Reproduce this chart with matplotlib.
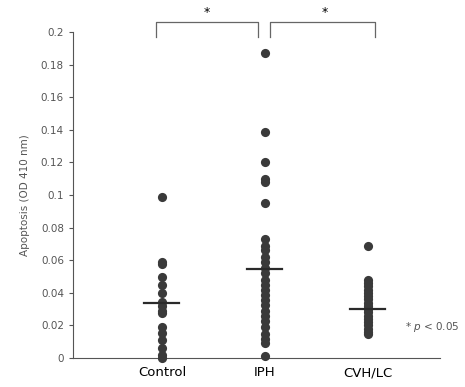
import matplotlib.pyplot as plt
import numpy as np

groups = ['Control', 'IPH', 'CVH/LC']
control = [0.099, 0.059, 0.0575, 0.050, 0.045, 0.040, 0.0345, 0.032, 0.029, 0.0275,
           0.019, 0.0155, 0.011, 0.006, 0.002, 0.0]
iph = [0.187, 0.139, 0.120, 0.110, 0.108, 0.095, 0.073, 0.069, 0.066, 0.062, 0.059,
       0.0555, 0.052, 0.048, 0.045, 0.042, 0.0387, 0.0356, 0.0325, 0.029, 0.026,
       0.023, 0.019, 0.015, 0.0117, 0.009, 0.001]
cvh = [0.0687, 0.048, 0.046, 0.044, 0.042, 0.040, 0.038, 0.036, 0.034, 0.032, 0.030,
       0.028, 0.026, 0.024, 0.022, 0.020, 0.018, 0.016, 0.015]
means = [0.034, 0.0545, 0.030]

fig = plt.figure(figsize=(4.65, 3.87), dpi=100)
ax = fig.add_axes([0.157, 0.075, 0.789, 0.842])

dot_col = '#3a3a3a'
for i, vals in enumerate([control, iph, cvh]):
    x = i + 1
    ax.plot([x] * len(vals), vals, 'o', color=dot_col, markersize=6.6,
            markeredgewidth=0, clip_on=False, zorder=3)
    ax.plot([x - 0.17, x + 0.17], [means[i], means[i]], color='#2a2a2a',
            lw=1.6, zorder=4)

ax.set_xlim(0.136, 3.70)
ax.set_ylim(0, 0.2)
ax.set_yticks(np.arange(0, 0.201, 0.02))
ax.set_yticklabels(['0', '0.02', '0.04', '0.06', '0.08', '0.1', '0.12', '0.14',
                    '0.16', '0.18', '0.2'])
ax.set_xticks([1, 2, 3])
ax.set_xticklabels(groups, fontsize=9.5)
ax.tick_params(axis='x', length=0, pad=6)
ax.tick_params(axis='y', direction='out', length=3, labelsize=7.5,
               labelcolor='#555555', color='#555555')
for s in ['top', 'right']:
    ax.spines[s].set_visible(False)
ax.spines['left'].set_color('#555555')
ax.spines['bottom'].set_color('#555555')
ax.set_ylabel('Apoptosis (OD 410 nm)', fontsize=7.5, color='#555555', labelpad=8)

# significance brackets
br_col = '#666666'
ax.plot([0.94, 0.94, 1.93, 1.93], [0.197, 0.206, 0.206, 0.197], color=br_col,
        lw=0.9, clip_on=False)
ax.plot([2.05, 2.05, 3.07, 3.07], [0.197, 0.206, 0.206, 0.197], color=br_col,
        lw=0.9, clip_on=False)
ax.text(1.44, 0.208, '*', ha='center', va='bottom', fontsize=9, clip_on=False)
ax.text(2.58, 0.208, '*', ha='center', va='bottom', fontsize=9, clip_on=False)

ax.text(3.36, 0.019, '* $p$ < 0.05', fontsize=7.5, color='#555555', va='center')

fig.savefig('out.png', dpi=100)
